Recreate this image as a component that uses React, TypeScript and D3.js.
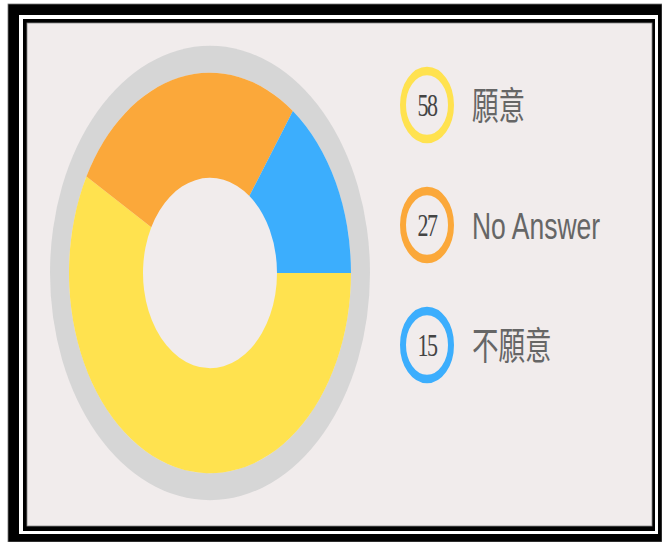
import React from "react";
import * as d3 from "d3";

const labels = ["願意", "No Answer", "不願意"];
const values = [58, 27, 15];
const colors = ["#FFE24F", "#FBA83A", "#3CAEFD"];

const W = 662;
const H = 542;
const SY = 1.42;

export default function App() {
  const pie = d3
    .pie<number>()
    .sort(null)
    .startAngle(Math.PI / 2)
    .endAngle(Math.PI / 2 + 2 * Math.PI);
  const arcs = pie(values);
  const arc = d3.arc<d3.PieArcDatum<number>>().innerRadius(67).outerRadius(141);

  const legendY = d3.scalePoint<number>().domain(values.map((_, i) => i)).range([0, 169]);

  return (
    <svg
      width={W}
      height={H}
      style={{ position: "absolute", left: 0, top: 0, display: "block" }}
    >
      <rect x={0} y={0} width={W} height={H} fill="#ffffff" />
      <rect x={8} y={4} width={W - 8} height={H - 4} fill="#000" stroke="#777" strokeWidth={0.8} />
      <rect x={19} y={15} width={639} height={519} fill="#fff" />
      <rect x={23} y={19} width={632} height={512} fill="#000" />
      <rect x={27} y={23} width={625} height={503} fill="#F1ECEC" stroke="#888" strokeWidth={0.8} />

      <g transform={`translate(210,273) scale(1,${SY})`}>
        <circle r={160} fill="#D6D6D6" />
        <circle r={141} fill="#F1ECEC" />
        {arcs.map((a, i) => (
          <path key={i} d={arc(a) || ""} fill={colors[i]} />
        ))}
      </g>

      <g transform={`translate(427,105) scale(1,${SY})`}>
        {values.map((v, i) => (
          <g key={i} transform={`translate(0,${legendY(i)})`}>
            <circle r={24} fill="none" stroke={colors[i]} strokeWidth={6} />
            <text
              x={0}
              y={0}
              dy="0.35em"
              textAnchor="middle"
              fontFamily="'Liberation Serif', 'Times New Roman', serif"
              fontSize={22}
              fill="#444"
              style={{ letterSpacing: "-1.5px" }}
            >
              {v}
            </text>
            <text
              x={45}
              y={0}
              dy="0.36em"
              fontFamily="'Liberation Sans', 'Noto Sans CJK TC', Arial, sans-serif"
              fontSize={26.5}
              fill="#666"
            >
              {labels[i]}
            </text>
          </g>
        ))}
      </g>
    </svg>
  );
}
